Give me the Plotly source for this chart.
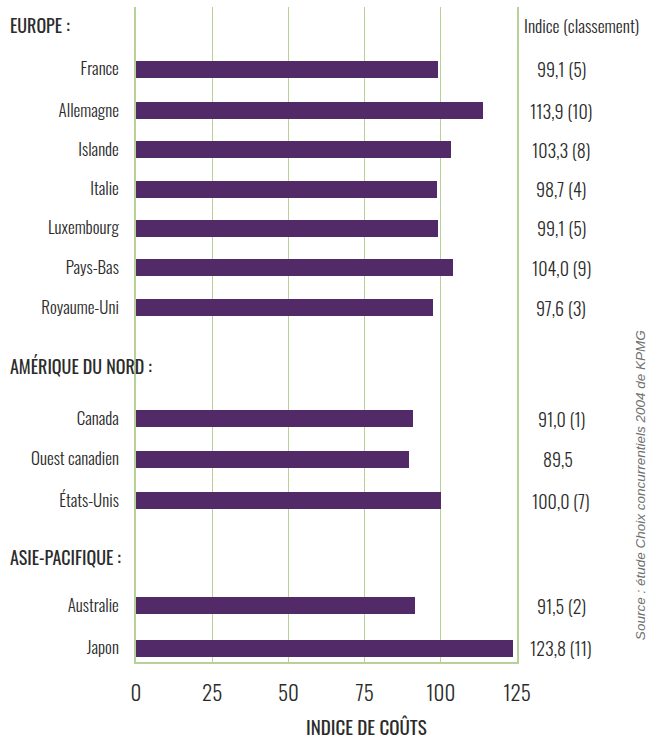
import plotly.graph_objects as go

countries = ["France", "Allemagne", "Islande", "Italie", "Luxembourg", "Pays-Bas", "Royaume-Uni",
             "Canada", "Ouest canadien", "États-Unis",
             "Australie", "Japon"]
values = [99.1, 113.9, 103.3, 98.7, 99.1, 104.0, 97.6,
          91.0, 89.5, 100.0,
          91.5, 123.8]
ranks = [5, 10, 8, 4, 5, 9, 3,
         1, None, 7,
         2, 11]
positions = [0, 1.05, 2.03, 3.02, 4.0, 4.99, 6.0,
             8.79, 9.8, 10.85,
             13.49, 14.55]
groups = ["EUROPE :", "AMÉRIQUE DU NORD :", "ASIE-PACIFIQUE :"]
group_positions = [-1.1, 7.46, 12.26]
x_ticks = [0, 25, 50, 75, 100, 125]

FONT = "Oswald, Pathway Gothic One, Antonio, Roboto Condensed, sans-serif"
TXT = "#2b2b2b"
BAR = "#512a67"
GRID = "#b8d196"
FS = 18

fig = go.Figure()
fig.add_trace(go.Bar(
    x=values, y=positions, orientation="h",
    marker=dict(color=BAR, line=dict(width=0)),
    width=0.43, hoverinfo="skip", showlegend=False,
))

def f(size, weight=300):
    return dict(family=FONT, size=size, color=TXT, weight=weight)

annotations = []
for g, p in zip(groups, group_positions):
    annotations.append(dict(x=-0.336, xref="paper", y=p, yref="y", text=g,
                            showarrow=False, xanchor="left", yanchor="middle", font=f(FS, 400)))

def fmt(v):
    return f"{v:.1f}".replace(".", ",")

for v, r, p in zip(values, ranks, positions):
    if r is None:
        annotations.append(dict(x=1.062, xref="paper", y=p, yref="y", text=fmt(v),
                                showarrow=False, xanchor="left", yanchor="middle", font=f(FS)))
    else:
        annotations.append(dict(x=1.1155, xref="paper", y=p, yref="y", text=f"{fmt(v)} ({r})",
                                showarrow=False, xanchor="center", yanchor="middle", font=f(FS)))

annotations.append(dict(x=1.012, xref="paper", y=-1.1, yref="y", text="Indice (classement)",
                        showarrow=False, xanchor="left", yanchor="middle", font=f(FS - 0.5)))
annotations.append(dict(x=0.606, xref="paper", y=-0.097, yref="paper", text="INDICE DE COÛTS",
                        showarrow=False, xanchor="center", yanchor="middle", font=f(FS + 1, 400)))
annotations.append(dict(x=1.326, xref="paper", y=10.45, yref="y",
                        text="<i>Source : étude Choix concurrentiels 2004 de KPMG</i>",
                        showarrow=False, textangle=-90, xanchor="center", yanchor="middle",
                        font=dict(family="Liberation Sans, sans-serif", size=13.5, color="#6f6f6f")))

fig.update_layout(
    width=647, height=740,
    margin=dict(l=136, r=130, t=7, b=78),
    paper_bgcolor="white", plot_bgcolor="white",
    bargap=0,
    annotations=annotations,
    xaxis=dict(range=[0, 125], tickvals=x_ticks, ticktext=[str(t) for t in x_ticks],
               showgrid=True, gridcolor=GRID, gridwidth=1.3,
               showline=True, linecolor=GRID, linewidth=1.5,
               zeroline=False, ticks="", ticklabelstandoff=12, automargin=False,
               tickfont=f(FS + 3), fixedrange=True),
    yaxis=dict(range=[14.9, -1.56], tickvals=positions, ticktext=countries,
               showgrid=False, showline=True, linecolor=GRID, linewidth=1.5, mirror=True,
               zeroline=False, ticks="", ticklabelstandoff=12, automargin=False,
               tickfont=f(FS - 1), fixedrange=True),
)

fig.write_html("out.html", config={"displayModeBar": False},
               post_script="document.body.style.margin='0';document.body.style.overflow='hidden';")
